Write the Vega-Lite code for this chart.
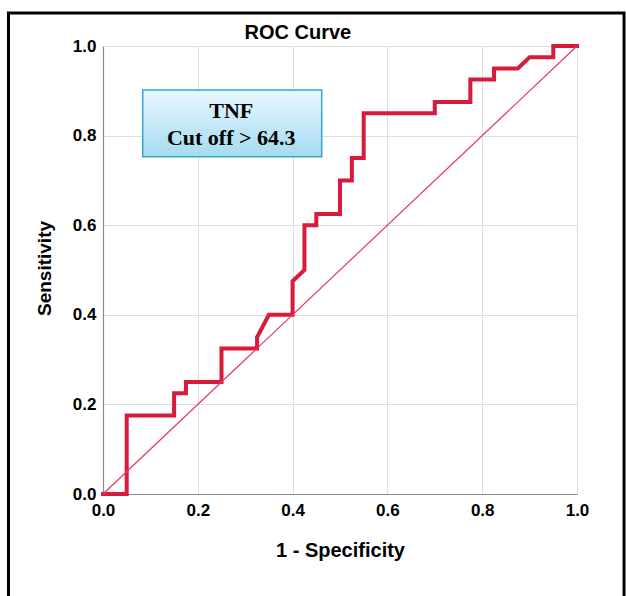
{
  "$schema": "https://vega.github.io/schema/vega-lite/v6.json",
  "width": 474,
  "height": 448,
  "autosize": {"type": "none"},
  "padding": {"left": 103, "top": 46, "right": 49, "bottom": 102},
  "background": "white",
  "config": {
    "view": {"stroke": null},
    "axis": {
      "grid": true, "gridColor": "#dedede", "gridWidth": 1,
      "domainColor": "#8a8a8a", "domainWidth": 1.2, "ticks": false, "labelFlush": false,
      "labelFont": "Liberation Sans", "labelFontSize": 17, "labelFontWeight": "bold", "labelColor": "#000000",
      "titleFont": "Liberation Sans", "titleFontSize": 20, "titleFontWeight": "bold", "titleColor": "#000000"
    }
  },
  "datasets": {
    "roc": [
      {"i": 0, "fpr": 0, "tpr": 0},
      {"i": 1, "fpr": 0.05, "tpr": 0},
      {"i": 2, "fpr": 0.05, "tpr": 0.175},
      {"i": 3, "fpr": 0.15, "tpr": 0.175},
      {"i": 4, "fpr": 0.15, "tpr": 0.225},
      {"i": 5, "fpr": 0.175, "tpr": 0.225},
      {"i": 6, "fpr": 0.175, "tpr": 0.25},
      {"i": 7, "fpr": 0.25, "tpr": 0.25},
      {"i": 8, "fpr": 0.25, "tpr": 0.325},
      {"i": 9, "fpr": 0.325, "tpr": 0.325},
      {"i": 10, "fpr": 0.325, "tpr": 0.35},
      {"i": 11, "fpr": 0.35, "tpr": 0.4},
      {"i": 12, "fpr": 0.4, "tpr": 0.4},
      {"i": 13, "fpr": 0.4, "tpr": 0.475},
      {"i": 14, "fpr": 0.425, "tpr": 0.5},
      {"i": 15, "fpr": 0.425, "tpr": 0.6},
      {"i": 16, "fpr": 0.45, "tpr": 0.6},
      {"i": 17, "fpr": 0.45, "tpr": 0.625},
      {"i": 18, "fpr": 0.5, "tpr": 0.625},
      {"i": 19, "fpr": 0.5, "tpr": 0.7},
      {"i": 20, "fpr": 0.525, "tpr": 0.7},
      {"i": 21, "fpr": 0.525, "tpr": 0.75},
      {"i": 22, "fpr": 0.55, "tpr": 0.75},
      {"i": 23, "fpr": 0.55, "tpr": 0.85},
      {"i": 24, "fpr": 0.7, "tpr": 0.85},
      {"i": 25, "fpr": 0.7, "tpr": 0.875},
      {"i": 26, "fpr": 0.775, "tpr": 0.875},
      {"i": 27, "fpr": 0.775, "tpr": 0.925},
      {"i": 28, "fpr": 0.825, "tpr": 0.925},
      {"i": 29, "fpr": 0.825, "tpr": 0.95},
      {"i": 30, "fpr": 0.875, "tpr": 0.95},
      {"i": 31, "fpr": 0.9, "tpr": 0.975},
      {"i": 32, "fpr": 0.95, "tpr": 0.975},
      {"i": 33, "fpr": 0.95, "tpr": 1},
      {"i": 34, "fpr": 1, "tpr": 1}
    ],
    "diag": [
      {"fpr": 0, "tpr": 0},
      {"fpr": 1, "tpr": 1}
    ],
    "one": [{}]
  },
  "layer": [
    {
      "data": {"name": "roc"},
      "mark": {"type": "line", "color": "#d81b3c", "strokeWidth": 4, "strokeJoin": "miter", "strokeCap": "square"},
      "encoding": {
        "x": {
          "field": "fpr", "type": "quantitative",
          "scale": {"domain": [0, 1], "nice": false, "zero": false},
          "axis": {"title": "1 - Specificity", "values": [0, 0.2, 0.4, 0.6, 0.8, 1], "format": ".1f", "labelPadding": 8, "titleBaseline": "alphabetic", "titleY": 62, "titleX": 237}
        },
        "y": {
          "field": "tpr", "type": "quantitative",
          "scale": {"domain": [0, 1], "nice": false, "zero": false},
          "axis": {"title": "Sensitivity", "values": [0, 0.2, 0.4, 0.6, 0.8, 1], "format": ".1f", "labelPadding": 7, "titleFontSize": 19, "titleX": -59, "titleY": 222, "titleBaseline": "middle"}
        },
        "order": {"field": "i", "type": "quantitative"}
      }
    },
    {
      "data": {"name": "diag"},
      "mark": {"type": "line", "color": "#e5365e", "strokeWidth": 1.2},
      "encoding": {
        "x": {"field": "fpr", "type": "quantitative"},
        "y": {"field": "tpr", "type": "quantitative"}
      }
    },
    {
      "data": {"name": "one"},
      "mark": {"type": "rect", "filled": false, "stroke": "#000000", "strokeWidth": 3, "clip": false},
      "encoding": {
        "x": {"datum": -0.1994, "type": "quantitative"},
        "x2": {"datum": 1.0992},
        "y": {"datum": 1.0737, "type": "quantitative"},
        "y2": {"datum": -0.25}
      }
    },
    {
      "data": {"name": "one"},
      "mark": {"type": "text", "text": "ROC Curve", "font": "Liberation Sans", "fontSize": 20, "fontWeight": "bold", "color": "#000000", "align": "center", "baseline": "alphabetic", "clip": false},
      "encoding": {
        "x": {"datum": 0.411, "type": "quantitative"},
        "y": {"datum": 1.0156, "type": "quantitative"}
      }
    },
    {
      "data": {"name": "one"},
      "mark": {"type": "rect", "color": "#9c9c9c", "opacity": 0.55, "xOffset": 3, "yOffset": 3},
      "encoding": {
        "x": {"datum": 0.0838, "type": "quantitative"},
        "x2": {"datum": 0.4614},
        "y": {"datum": 0.9018, "type": "quantitative"},
        "y2": {"datum": 0.7529}
      }
    },
    {
      "data": {"name": "one"},
      "mark": {
        "type": "rect",
        "fill": {"gradient": "linear", "x1": 0, "y1": 0, "x2": 0, "y2": 1, "stops": [{"offset": 0, "color": "#e9f7fd"}, {"offset": 1, "color": "#a4dbf1"}]},
        "stroke": "#35a8cf", "strokeWidth": 1.5
      },
      "encoding": {
        "x": {"datum": 0.0838, "type": "quantitative"},
        "x2": {"datum": 0.4614},
        "y": {"datum": 0.9018, "type": "quantitative"},
        "y2": {"datum": 0.7529}
      }
    },
    {
      "data": {"name": "one"},
      "mark": {"type": "text", "text": "TNF", "font": "Liberation Serif", "fontSize": 22, "fontWeight": "bold", "color": "#000000", "align": "center", "baseline": "alphabetic"},
      "encoding": {
        "x": {"datum": 0.2705, "type": "quantitative"},
        "y": {"datum": 0.8386, "type": "quantitative"}
      }
    },
    {
      "data": {"name": "one"},
      "mark": {"type": "text", "text": "Cut off > 64.3", "font": "Liberation Serif", "fontSize": 22, "fontWeight": "bold", "color": "#000000", "align": "center", "baseline": "alphabetic"},
      "encoding": {
        "x": {"datum": 0.2705, "type": "quantitative"},
        "y": {"datum": 0.779, "type": "quantitative"}
      }
    }
  ]
}
